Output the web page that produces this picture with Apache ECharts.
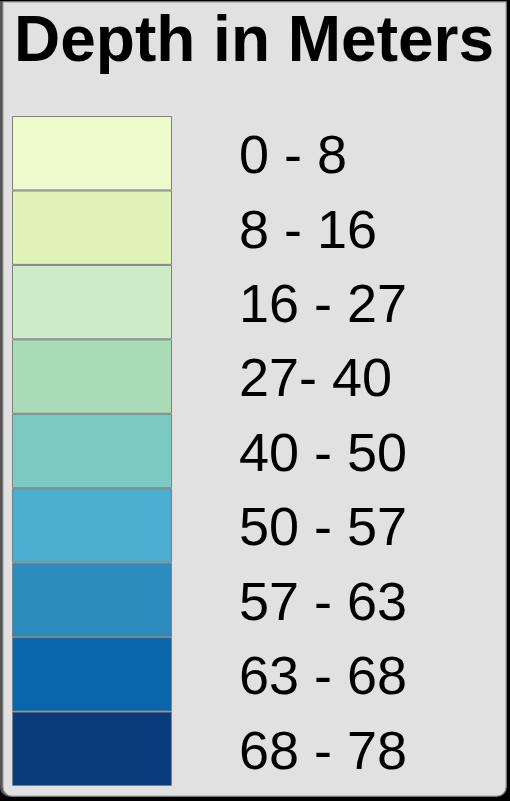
<!DOCTYPE html>
<html><head><meta charset="utf-8">
<script src="https://cdn.jsdelivr.net/npm/echarts@6/dist/echarts.min.js"></script>
<style>html,body{margin:0;padding:0;background:#000;}#c{width:510px;height:801px;}</style>
</head><body><div id="c"></div>
<script>
const titleText = 'Depth in Meters';
const categories = ['0 - 8','8 - 16','16 - 27','27- 40','40 - 50','50 - 57','57 - 63','63 - 68','68 - 78'];
const values = [1,1,1,1,1,1,1,1,1];
const colors = ['#eefacb','#e0f3b9','#cdebc7','#a9dcb6','#7bcbc3','#4bafd2','#2b8bbd','#0867ab','#0a3c7d'];

const chart = echarts.init(document.getElementById('c'), null, {renderer:'canvas'});
chart.setOption({
  backgroundColor:'#000',
  animation:false,
  title:{text:titleText,left:14,top:11,padding:0,
    textStyle:{fontFamily:'Liberation Sans, Arial, sans-serif',fontWeight:'bold',fontSize:64,color:'#000'}},
  graphic:[
    {type:'rect',z:-10,shape:{x:0,y:1,width:507,height:796,r:[0,0,10,10]},style:{fill:'#555'}},
    {type:'rect',z:-9,shape:{x:3,y:2,width:503,height:794,r:[0,0,9,9]},style:{fill:'#e1e1e1',stroke:'#9a9a9a',lineWidth:1}}
  ],
  grid:[{left:12,top:116,width:160,height:670},{left:12,top:121,width:160,height:670}],
  xAxis:[{type:'value',min:0,max:1,show:false},{type:'value',min:0,max:1,show:false,gridIndex:1}],
  yAxis:[{type:'category',data:categories,inverse:true,show:false},
    {type:'category',gridIndex:1,data:categories,inverse:true,position:'right',
    axisLine:{show:false},axisTick:{show:false},splitLine:{show:false},
    axisLabel:{margin:67,fontSize:54,color:'#000',fontFamily:'Liberation Sans, Arial, sans-serif',align:'left'}}],
  series:[{type:'bar',barWidth:'100%',barCategoryGap:0,
    data:values.map((v,i)=>({value:v,itemStyle:{color:colors[i]}})),
    itemStyle:{borderColor:'#808080',borderWidth:1}}]
});
</script></body></html>
